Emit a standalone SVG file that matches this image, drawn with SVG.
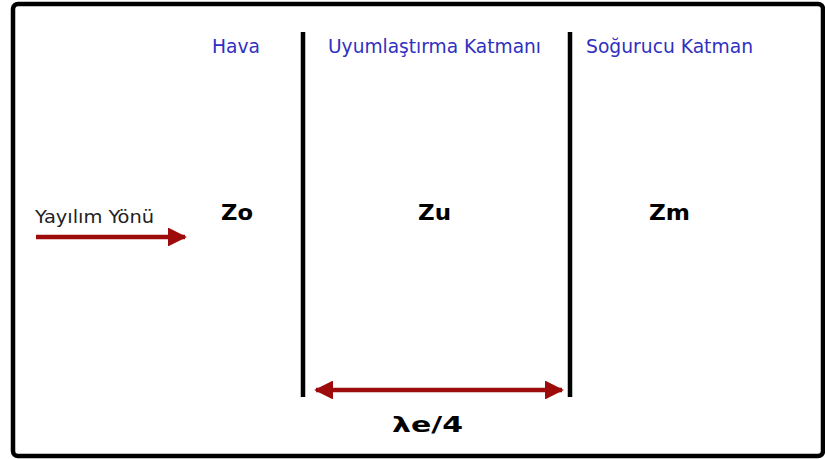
<svg xmlns="http://www.w3.org/2000/svg" width="825" height="459" viewBox="0 0 825 459">
<style>
.lbl{font-family:"DejaVu Sans Condensed","DejaVu Sans","Liberation Sans",sans-serif;font-size:19px;fill:#3030c0}
.z{font-family:"DejaVu Sans","Liberation Sans",sans-serif;font-size:22px;font-weight:bold;fill:#000}
.wall{stroke:#000;stroke-width:4.5;fill:none}
.arr{stroke:#9e0b0b;stroke-width:4.5;fill:none}
</style>
<defs>
<marker id="ah" viewBox="0 0 10 10" refX="9" refY="5" markerWidth="4.2" markerHeight="4.2" orient="auto-start-reverse" markerUnits="strokeWidth">
<path d="M0,0 L10,5 L0,10 z" fill="#9e0b0b"/>
</marker>
</defs>
<rect x="0" y="0" width="825" height="459" fill="#fff"/>
<rect id="frame" x="13" y="4" width="810" height="452" rx="5" fill="none" stroke="#000" stroke-width="4.5"/>
<g id="hava">
<text class="lbl" x="212" y="53" textLength="48" lengthAdjust="spacingAndGlyphs">Hava</text>
<text class="z" x="221" y="220" textLength="32" lengthAdjust="spacingAndGlyphs">Zo</text>
</g>
<g id="uyum">
<text class="lbl" x="328" y="53" textLength="213" lengthAdjust="spacingAndGlyphs">Uyumlaştırma Katmanı</text>
<text class="z" x="418" y="220" textLength="33" lengthAdjust="spacingAndGlyphs">Zu</text>
</g>
<g id="sogurucu">
<text class="lbl" x="586" y="53" textLength="167" lengthAdjust="spacingAndGlyphs">Soğurucu Katman</text>
<text class="z" x="649" y="220" textLength="41" lengthAdjust="spacingAndGlyphs">Zm</text>
</g>
<g id="yayilim">
<text x="35" y="223" font-family="DejaVu Sans Condensed, DejaVu Sans, Liberation Sans, sans-serif" font-size="18" fill="#222" textLength="119" lengthAdjust="spacingAndGlyphs">Yayılım Yönü</text>
</g>
<g id="lambda">
<text class="z" x="392" y="432" textLength="71" lengthAdjust="spacingAndGlyphs">λe/4</text>
</g>
<g id="connectors">
<line class="wall" x1="303" y1="32" x2="303" y2="397"/>
<line class="wall" x1="570" y1="32" x2="570" y2="397"/>
<line class="arr" x1="36" y1="237" x2="185" y2="237" marker-end="url(#ah)"/>
<line class="arr" x1="316" y1="390" x2="562" y2="390" marker-start="url(#ah)" marker-end="url(#ah)"/>
</g>
</svg>
